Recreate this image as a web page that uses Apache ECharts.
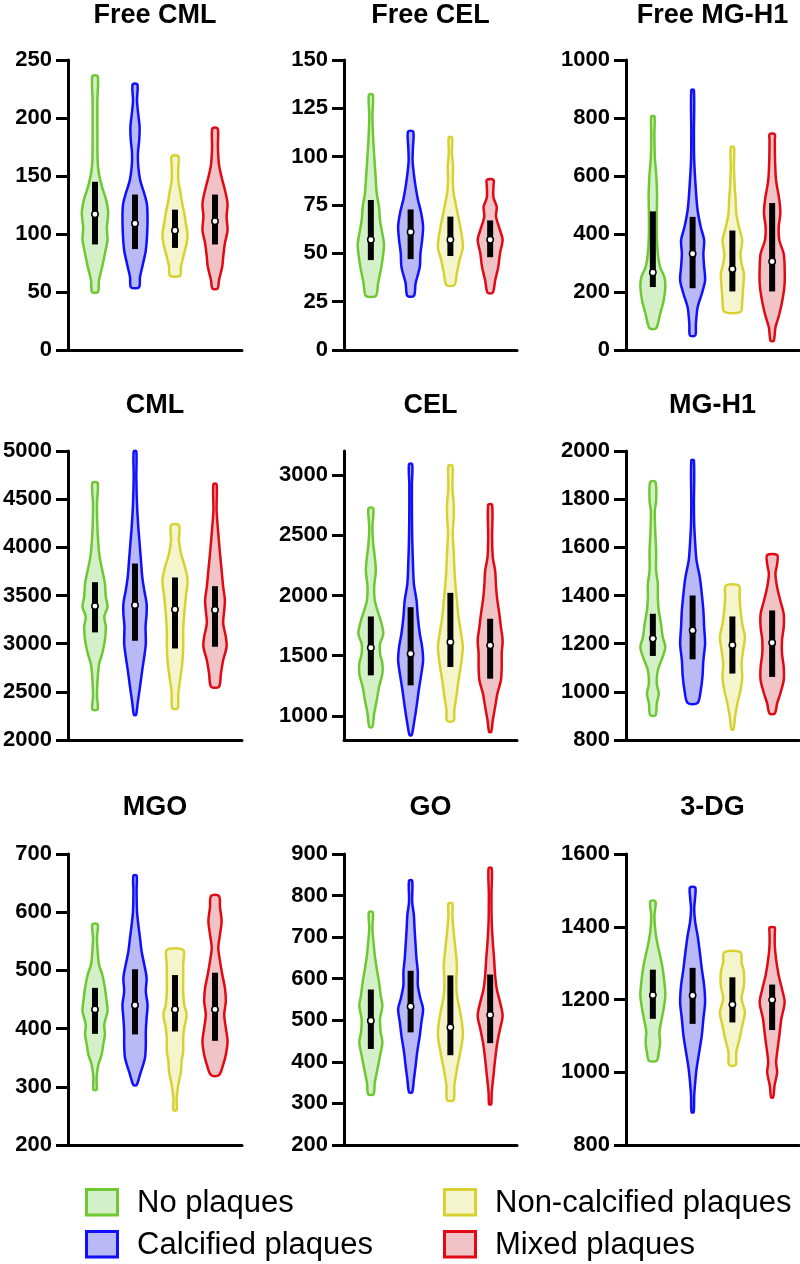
<!DOCTYPE html>
<html>
<head>
<meta charset="utf-8">
<title>Violin plots</title>
<script src="https://cdn.jsdelivr.net/npm/echarts@6/dist/echarts.min.js"></script>
<style>
  html, body { margin: 0; padding: 0; background: #fff; }
  #chart { width: 800px; height: 1264px; }
</style>
</head>
<body>
<div id="chart"></div>
<script>
// groups, colours
const groups = ['No plaques', 'Calcified plaques', 'Non-calcified plaques', 'Mixed plaques']
const lineColors = ['#6ec832', '#1010ff', '#d7d232', '#e10a14']
const fillColors = ['#d4f0c8', '#b9b9f5', '#f5f5cd', '#f0c3c6']

const titles = ['Free CML', 'Free CEL', 'Free MG-H1', 'CML', 'CEL', 'MG-H1', 'MGO', 'GO', '3-DG']
const yMin = [0, 0, 0, 2000, 800, 800, 200, 200, 800]
const yMax = [250, 150, 1000, 5000, 3200, 2000, 700, 900, 1600]
const yTicks = [
  [0, 50, 100, 150, 200, 250],
  [0, 25, 50, 75, 100, 125, 150],
  [0, 200, 400, 600, 800, 1000],
  [2000, 2500, 3000, 3500, 4000, 4500, 5000],
  [1000, 1500, 2000, 2500, 3000],
  [800, 1000, 1200, 1400, 1600, 1800, 2000],
  [200, 300, 400, 500, 600, 700],
  [200, 300, 400, 500, 600, 700, 800, 900],
  [800, 1000, 1200, 1400, 1600]
]

// violin outlines: [value, relative half width], per group; boxes: [q1, median, q3]
const freeCMLShape = [
  [[50, 0.22], [60, 0.3], [72, 0.55], [83, 0.75], [95, 0.95], [100, 0.92], [106, 0.9], [118, 1.0], [129, 0.85], [140, 0.55], [152, 0.3], [163, 0.2], [186, 0.18], [215, 0.18], [236, 0.2]],
  [[54, 0.3], [63, 0.38], [75, 0.62], [86, 0.82], [100, 0.92], [115, 0.95], [126, 0.9], [135, 0.7], [146, 0.4], [158, 0.25], [169, 0.22], [181, 0.32], [192, 0.35], [206, 0.22], [215, 0.15], [229, 0.18]],
  [[64, 0.38], [72, 0.45], [80, 0.62], [92, 0.88], [100, 0.95], [109, 0.82], [118, 0.7], [126, 0.55], [138, 0.38], [146, 0.25], [158, 0.25], [167, 0.25]],
  [[53, 0.2], [60, 0.3], [72, 0.55], [80, 0.62], [92, 0.75], [103, 0.95], [115, 0.88], [126, 0.95], [138, 0.75], [149, 0.5], [160, 0.3], [175, 0.22], [191, 0.2]]
]
const freeCMLBox = [[91, 117, 145], [87, 109, 134], [88, 103, 121], [91, 111, 134]]

const freeCELShape = [
  [[28, 0.38], [34.5, 0.55], [43, 0.8], [50, 0.95], [55, 1.0], [60, 0.88], [67, 0.7], [74, 0.62], [81, 0.45], [91, 0.35], [98, 0.28], [109, 0.18], [121, 0.12], [132, 0.15]],
  [[28, 0.25], [34.5, 0.38], [43, 0.7], [50, 0.75], [57, 0.88], [64, 0.95], [71, 0.8], [78, 0.55], [84.5, 0.38], [91, 0.25], [98, 0.15], [105, 0.18], [113, 0.2]],
  [[33.6, 0.3], [40, 0.5], [46.5, 0.7], [53, 0.95], [58.6, 0.88], [65.5, 0.7], [74, 0.45], [81, 0.25], [88, 0.18], [95, 0.2], [101.7, 0.12], [110, 0.12]],
  [[29.7, 0.2], [36, 0.38], [43, 0.62], [50, 0.75], [57, 0.95], [62, 0.75], [69, 0.45], [74, 0.5], [79, 0.25], [84.5, 0.25], [88, 0.25]]
]
const freeCELBox = [[46.5, 57, 77.6], [47, 61, 72.7], [48.6, 57, 69], [48, 57, 67]]

const freeMGH1Shape = [
  [[75, 0.25], [124, 0.55], [170, 0.82], [217, 0.95], [251, 0.88], [286, 0.55], [332, 0.38], [401, 0.3], [470, 0.3], [539, 0.32], [608, 0.25], [666, 0.15], [746, 0.12], [806, 0.12]],
  [[50, 0.2], [90, 0.25], [147, 0.38], [194, 0.7], [240, 0.95], [286, 0.88], [332, 0.82], [378, 0.88], [424, 0.62], [482, 0.38], [551, 0.25], [654, 0.12], [746, 0.1], [896, 0.1]],
  [[132, 0.62], [170, 0.75], [217, 0.82], [263, 0.88], [297, 0.7], [332, 0.62], [378, 0.75], [424, 0.5], [470, 0.3], [516, 0.25], [562, 0.18], [631, 0.12], [700, 0.12]],
  [[32, 0.12], [78, 0.25], [124, 0.55], [182, 0.82], [228, 0.95], [286, 0.95], [332, 0.88], [378, 0.55], [424, 0.5], [470, 0.62], [516, 0.55], [585, 0.3], [654, 0.22], [723, 0.2], [744, 0.2]]
]
const freeMGH1Box = [[217, 267, 478], [213, 332, 459], [202, 279, 412], [202, 305, 507]]

const cmlShape = [
  [[2318, 0.2], [2449, 0.15], [2588, 0.18], [2726, 0.25], [2795, 0.32], [2899, 0.55], [3037, 0.75], [3175, 0.82], [3279, 0.7], [3383, 0.95], [3486, 0.82], [3625, 0.75], [3763, 0.55], [3901, 0.35], [4040, 0.25], [4212, 0.18], [4454, 0.15], [4668, 0.2]],
  [[2260, 0.08], [2380, 0.2], [2553, 0.38], [2726, 0.55], [2864, 0.7], [3002, 0.82], [3175, 0.8], [3313, 0.88], [3417, 0.88], [3555, 0.7], [3694, 0.55], [3867, 0.45], [4040, 0.35], [4212, 0.25], [4454, 0.15], [4731, 0.1], [4997, 0.1]],
  [[2328, 0.2], [2484, 0.25], [2622, 0.38], [2795, 0.55], [2968, 0.62], [3141, 0.62], [3313, 0.7], [3486, 0.82], [3659, 0.95], [3797, 0.75], [3936, 0.45], [4074, 0.3], [4229, 0.3]],
  [[2553, 0.3], [2691, 0.45], [2830, 0.62], [2968, 0.88], [3071, 0.82], [3210, 0.62], [3348, 0.7], [3452, 0.75], [3590, 0.62], [3763, 0.5], [3936, 0.38], [4143, 0.25], [4385, 0.12], [4655, 0.12]]
]
const cmlBox = [[3117, 3390, 3638], [3030, 3400, 3832], [2950, 3355, 3687], [2968, 3350, 3597]]

const celShape = [
  [[909, 0.12], [1019, 0.25], [1130, 0.45], [1240, 0.62], [1351, 0.88], [1434, 0.88], [1517, 0.7], [1600, 0.7], [1682, 0.95], [1793, 0.75], [1876, 0.5], [1959, 0.3], [2069, 0.25], [2207, 0.38], [2318, 0.3], [2428, 0.18], [2566, 0.12], [2724, 0.18]],
  [[840, 0.08], [936, 0.25], [1075, 0.45], [1213, 0.62], [1351, 0.82], [1461, 0.95], [1572, 0.88], [1682, 0.7], [1820, 0.55], [1959, 0.45], [2097, 0.25], [2262, 0.18], [2483, 0.12], [2704, 0.1], [2925, 0.1], [3091, 0.12]],
  [[959, 0.25], [1047, 0.3], [1157, 0.45], [1296, 0.62], [1434, 0.82], [1572, 0.95], [1682, 0.82], [1820, 0.62], [1959, 0.5], [2097, 0.38], [2235, 0.3], [2373, 0.25], [2511, 0.18], [2649, 0.25], [2760, 0.25], [2898, 0.15], [3077, 0.15]],
  [[867, 0.08], [964, 0.2], [1075, 0.38], [1185, 0.55], [1296, 0.82], [1406, 0.88], [1517, 0.88], [1627, 0.95], [1738, 0.82], [1848, 0.7], [1959, 0.55], [2069, 0.45], [2207, 0.38], [2318, 0.2], [2483, 0.15], [2754, 0.15]]
]
const celBox = [[1337, 1566, 1826], [1254, 1517, 1903], [1406, 1613, 2022], [1309, 1586, 1807]]

const mgh1Shape = [
  [[903, 0.2], [952, 0.3], [993, 0.45], [1034, 0.3], [1090, 0.38], [1145, 0.75], [1186, 0.95], [1228, 0.75], [1283, 0.62], [1338, 0.45], [1393, 0.38], [1448, 0.38], [1503, 0.25], [1586, 0.25], [1669, 0.18], [1752, 0.15], [1793, 0.25], [1872, 0.2]],
  [[954, 0.38], [1007, 0.62], [1062, 0.75], [1131, 0.82], [1200, 0.95], [1269, 0.88], [1338, 0.82], [1407, 0.7], [1476, 0.55], [1545, 0.3], [1614, 0.2], [1697, 0.12], [1779, 0.1], [1961, 0.1]],
  [[844, 0.08], [897, 0.2], [952, 0.38], [1007, 0.62], [1062, 0.75], [1117, 0.7], [1172, 0.82], [1228, 0.95], [1283, 0.75], [1338, 0.62], [1393, 0.55], [1441, 0.5]],
  [[910, 0.2], [952, 0.38], [993, 0.62], [1048, 0.88], [1103, 0.88], [1159, 0.75], [1214, 0.75], [1269, 0.88], [1324, 0.88], [1379, 0.62], [1434, 0.38], [1490, 0.25], [1531, 0.38], [1568, 0.38]]
]
const mgh1Box = [[1149, 1221, 1324], [1135, 1255, 1400], [1076, 1194, 1313], [1062, 1204, 1338]]

const mgoShape = [
  [[295, 0.12], [315, 0.12], [338, 0.25], [355, 0.5], [372, 0.62], [390, 0.75], [407, 0.7], [430, 0.95], [447, 0.88], [470, 0.75], [493, 0.55], [510, 0.3], [533, 0.2], [556, 0.15], [579, 0.2]],
  [[303, 0.12], [321, 0.38], [349, 0.75], [372, 0.82], [395, 0.82], [418, 0.88], [441, 0.95], [464, 0.82], [487, 0.88], [510, 0.7], [533, 0.5], [556, 0.38], [579, 0.25], [602, 0.15], [637, 0.12], [663, 0.12]],
  [[260, 0.12], [280, 0.12], [303, 0.25], [326, 0.45], [344, 0.5], [361, 0.62], [384, 0.62], [401, 0.7], [424, 0.88], [441, 0.7], [464, 0.62], [487, 0.62], [510, 0.62], [535, 0.62]],
  [[320, 0.3], [338, 0.62], [355, 0.82], [378, 0.95], [401, 0.82], [424, 0.7], [447, 0.82], [470, 0.75], [493, 0.55], [516, 0.38], [539, 0.25], [562, 0.38], [585, 0.5], [608, 0.38], [628, 0.3]]
]
const mgoBox = [[391, 433, 470], [390, 440, 502], [395, 433, 492], [379, 433, 496]]

const goShape = [
  [[322, 0.2], [350, 0.3], [382, 0.5], [415, 0.7], [447, 0.88], [471, 0.75], [503, 0.7], [535, 0.88], [560, 0.75], [592, 0.62], [624, 0.45], [656, 0.3], [689, 0.2], [721, 0.12], [760, 0.15]],
  [[327, 0.12], [358, 0.25], [390, 0.38], [423, 0.5], [463, 0.7], [495, 0.82], [527, 0.95], [552, 0.75], [584, 0.55], [616, 0.55], [648, 0.45], [681, 0.38], [721, 0.3], [753, 0.25], [785, 0.12], [836, 0.12]],
  [[308, 0.25], [342, 0.3], [382, 0.5], [423, 0.75], [463, 0.95], [495, 0.88], [527, 0.7], [560, 0.5], [592, 0.45], [632, 0.5], [673, 0.38], [713, 0.25], [753, 0.15], [781, 0.15]],
  [[298, 0.08], [326, 0.12], [366, 0.25], [406, 0.38], [447, 0.55], [479, 0.75], [511, 0.95], [544, 0.75], [576, 0.5], [608, 0.38], [648, 0.3], [689, 0.2], [737, 0.12], [802, 0.1], [866, 0.12]]
]
const goBox = [[431, 499, 574], [471, 533, 619], [416, 483, 608], [445, 513, 610]]

const dgShape = [
  [[1032, 0.3], [1055, 0.45], [1082, 0.55], [1110, 0.5], [1137, 0.62], [1174, 0.82], [1211, 0.95], [1247, 0.88], [1284, 0.75], [1321, 0.55], [1348, 0.38], [1385, 0.2], [1430, 0.12], [1470, 0.2]],
  [[890, 0.08], [936, 0.12], [973, 0.2], [1009, 0.3], [1055, 0.5], [1101, 0.7], [1147, 0.82], [1192, 0.95], [1238, 0.88], [1284, 0.7], [1330, 0.55], [1376, 0.38], [1412, 0.2], [1449, 0.12], [1485, 0.2], [1508, 0.2]],
  [[1020, 0.25], [1055, 0.3], [1092, 0.55], [1128, 0.75], [1165, 0.95], [1202, 0.7], [1238, 0.88], [1275, 0.88], [1302, 0.7], [1330, 0.62]],
  [[931, 0.08], [963, 0.18], [1000, 0.38], [1027, 0.3], [1055, 0.38], [1101, 0.55], [1147, 0.7], [1192, 0.95], [1229, 0.75], [1266, 0.5], [1311, 0.3], [1348, 0.2], [1385, 0.2], [1398, 0.2]]
]
const dgBox = [[1147, 1212, 1282], [1133, 1211, 1287], [1137, 1186, 1261], [1116, 1199, 1241]]

const shapes = [freeCMLShape, freeCELShape, freeMGH1Shape, cmlShape, celShape, mgh1Shape, mgoShape, goShape, dgShape]
const boxes = [freeCMLBox, freeCELBox, freeMGH1Box, cmlBox, celBox, mgh1Box, mgoBox, goBox, dgBox]

// layout
const colLeft = [68, 344, 626]
const colWidth = [174, 173, 173]
const rowTop = [60, 451, 854]
const rowHeight = [290, 289, 291]
const titleY = [15.5, 405.5, 808]
const halfW = 0.33 // max half width of a violin, in x units
const font = "'Liberation Sans', Arial, Helvetica, sans-serif"

function violinRender (shape, line, fill) {
  return function (params, api) {
    const x = api.value(0)
    const right = shape.map(d => api.coord([x + d[1] * halfW, d[0]]))
    const left = shape.slice().reverse().map(d => api.coord([x - d[1] * halfW, d[0]]))
    const q1 = api.coord([x, api.value(1)])
    const med = api.coord([x, api.value(2)])
    const q3 = api.coord([x, api.value(3)])
    return {
      type: 'group',
      children: [
        {
          type: 'polygon',
          shape: { points: right.concat(left), smooth: 0.3 },
          style: { fill: fill, stroke: line, lineWidth: 2.5, lineJoin: 'round' }
        },
        {
          type: 'line',
          shape: { x1: q1[0], y1: q1[1], x2: q3[0], y2: q3[1] },
          style: { stroke: '#000', lineWidth: 6 }
        },
        {
          type: 'circle',
          shape: { cx: med[0], cy: med[1], r: 3.2 },
          style: { fill: '#fff', stroke: '#000', lineWidth: 1.5 }
        }
      ]
    }
  }
}

const grid = []
const xAxis = []
const yAxis = []
const series = []
const graphic = []
for (let p = 0; p < 9; p++) {
  const row = Math.floor(p / 3)
  const col = p % 3
  grid.push({ left: colLeft[col], top: rowTop[row], width: colWidth[col], height: rowHeight[row] })
  xAxis.push({
    type: 'value',
    gridIndex: p,
    min: 0.325,
    max: 4.675,
    axisLine: { onZero: false, lineStyle: { color: '#000', width: 3 } },
    axisTick: { show: false },
    axisLabel: { show: false },
    splitLine: { show: false }
  })
  yAxis.push({
    type: 'value',
    gridIndex: p,
    min: yMin[p],
    max: yMax[p],
    axisLine: { show: true, onZero: false, lineStyle: { color: '#000', width: 3 } },
    axisTick: { show: true, length: 12, customValues: yTicks[p], lineStyle: { color: '#000', width: 3 } },
    axisLabel: {
      customValues: yTicks[p],
      formatter: v => String(v),
      fontSize: 22,
      fontWeight: 'bold',
      color: '#000',
      fontFamily: font,
      margin: 16
    },
    splitLine: { show: false }
  })
  for (let g = 0; g < 4; g++) {
    const b = boxes[p][g]
    series.push({
      type: 'custom',
      name: groups[g],
      xAxisIndex: p,
      yAxisIndex: p,
      silent: true,
      itemStyle: { color: fillColors[g], borderColor: lineColors[g], borderWidth: 3 },
      renderItem: violinRender(shapes[p][g], lineColors[g], fillColors[g]),
      data: [[g + 1, b[0], b[1], b[2]]]
    })
  }
  graphic.push({
    type: 'text',
    x: colLeft[col] + colWidth[col] / 2,
    y: titleY[row],
    style: {
      text: titles[p],
      fill: '#000',
      font: 'bold 27px ' + font,
      textAlign: 'center',
      textVerticalAlign: 'middle',
      verticalAlign: 'middle'
    }
  })
}

// legend, 2 x 2
const legendX = [86.5, 86.5, 444.5, 444.5]
const legendY = [1189.5, 1231.5, 1189.5, 1231.5]
for (let g = 0; g < 4; g++) {
  graphic.push({
    type: 'rect',
    shape: { x: legendX[g], y: legendY[g], width: 31, height: 25.5 },
    style: { fill: fillColors[g], stroke: lineColors[g], lineWidth: 3 }
  })
  graphic.push({
    type: 'text',
    x: legendX[g] + 50.5,
    y: legendY[g] + 13.5,
    style: {
      text: groups[g],
      fill: '#000',
      font: '31px ' + font,
      textAlign: 'left',
      textVerticalAlign: 'middle',
      verticalAlign: 'middle'
    }
  })
}

const chart = echarts.init(document.getElementById('chart'), null, { renderer: 'canvas' })
chart.setOption({
  animation: false,
  backgroundColor: '#fff',
  grid: grid,
  xAxis: xAxis,
  yAxis: yAxis,
  graphic: graphic,
  series: series
})
</script>
</body>
</html>
